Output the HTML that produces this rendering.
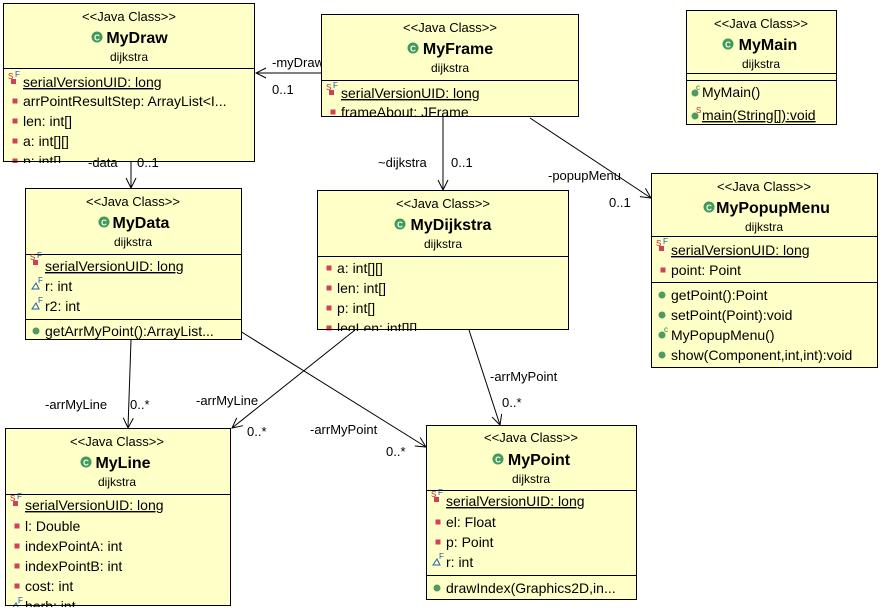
<!DOCTYPE html>
<html><head><meta charset="utf-8"><style>
html,body{margin:0;padding:0;background:#fff;width:880px;height:610px;overflow:hidden}
svg{font-family:"Liberation Sans",sans-serif}
.st{font-size:13px;text-anchor:middle}
.nm{font-size:16px;font-weight:bold;text-anchor:middle}
.pk{font-size:12px;text-anchor:middle}
.r{font-size:14px}
.l{font-size:13px}
.sf{font-size:8px}
</style></head><body>
<svg width="880" height="610" viewBox="0 0 880 610">
<defs>
<marker id="a" markerWidth="12" markerHeight="12" refX="11" refY="6" orient="auto" markerUnits="userSpaceOnUse"><path d="M1,1 L11,6 L1,11" fill="none" stroke="#000" stroke-width="1"/></marker>
<g id="cls"><circle cx="0" cy="0" r="5.5" fill="#3f9a5a"/><text x="0" y="3.5" font-size="8" font-weight="bold" fill="#fff" text-anchor="middle">C</text></g>
<g id="pv"><rect x="-2.5" y="-2.5" width="5" height="5" fill="#d0405a"/></g>
<g id="pm"><circle cx="0" cy="0" r="3.5" fill="#4f9a60"/></g>
<g id="sfi"><rect x="-1" y="-1" width="5" height="5" fill="#d0405a"/><text x="-4" y="-1" class="sf" fill="#c0203a">S</text><text x="3" y="-3" class="sf" fill="#2050c0">F</text></g>
<g id="fi"><path d="M-3,3 L1,-3 L4,3 Z" fill="none" stroke="#2060b0"/><text x="3" y="-3" class="sf" fill="#2050c0">F</text></g>
</defs>

<g stroke="#000" stroke-width="1" fill="none">
<line x1="321" y1="73" x2="256" y2="73" marker-end="url(#a)"/>
<line x1="131" y1="162" x2="131" y2="188" marker-end="url(#a)"/>
<line x1="443" y1="117" x2="443" y2="190" marker-end="url(#a)"/>
<line x1="530" y1="118" x2="651" y2="198" marker-end="url(#a)"/>
<line x1="131" y1="340" x2="128" y2="428" marker-end="url(#a)"/>
<line x1="240" y1="331" x2="426" y2="447" marker-end="url(#a)"/>
<line x1="355" y1="330" x2="232" y2="428" marker-end="url(#a)"/>
<line x1="469" y1="330" x2="500" y2="425" marker-end="url(#a)"/>
</g>
<g class="l">
<text x="272" y="67">-myDraw</text><text x="272" y="94">0..1</text>
<text x="378" y="167">~dijkstra</text><text x="451" y="167">0..1</text>
<text x="548" y="180">-popupMenu</text><text x="609" y="207">0..1</text>
<text x="45" y="409">-arrMyLine</text><text x="130" y="409">0..*</text>
<text x="310" y="434">-arrMyPoint</text><text x="386" y="456">0..*</text>
<text x="196" y="405">-arrMyLine</text><text x="247" y="436">0..*</text>
<text x="490" y="381">-arrMyPoint</text><text x="502" y="407">0..*</text>
</g>

<!-- MyDraw -->
<svg x="3" y="3" width="253" height="160">
<rect x="0.5" y="0.5" width="251" height="158" fill="#ffffc8" stroke="#000"/>
<text x="126" y="18" class="st">&lt;&lt;Java Class&gt;&gt;</text>
<use href="#cls" x="94" y="34"/><text x="134" y="40" class="nm">MyDraw</text>
<text x="126" y="58" class="pk">dijkstra</text>
<line x1="0" y1="65.5" x2="252" y2="65.5" stroke="#000"/>
<use href="#sfi" x="9" y="77"/><text x="20" y="84" class="r" text-decoration="underline">serialVersionUID: long</text>
<use href="#pv" x="12" y="98"/><text x="20" y="103" class="r">arrPointResultStep: ArrayList&lt;I...</text>
<use href="#pv" x="12" y="118"/><text x="20" y="123" class="r">len: int[]</text>
<use href="#pv" x="12" y="138"/><text x="20" y="143" class="r">a: int[][]</text>
<use href="#pv" x="12" y="158"/><text x="20" y="163" class="r">p: int[]</text>
<rect x="0.5" y="0.5" width="251" height="158" fill="none" stroke="#000"/>
</svg>
<g class="l"><text x="88" y="167">-data</text><text x="137" y="167">0..1</text></g>

<!-- MyFrame -->
<svg x="321" y="14" width="259" height="104">
<rect x="0.5" y="0.5" width="257" height="102" fill="#ffffc8" stroke="#000"/>
<text x="129" y="18" class="st">&lt;&lt;Java Class&gt;&gt;</text>
<use href="#cls" x="92" y="34"/><text x="137" y="40" class="nm">MyFrame</text>
<text x="129" y="58" class="pk">dijkstra</text>
<line x1="0" y1="66.5" x2="258" y2="66.5" stroke="#000"/>
<use href="#sfi" x="9" y="77"/><text x="20" y="84" class="r" text-decoration="underline">serialVersionUID: long</text>
<use href="#pv" x="12" y="98"/><text x="20" y="103" class="r">frameAbout: JFrame</text>
<rect x="0.5" y="0.5" width="257" height="102" fill="none" stroke="#000"/>
</svg>

<!-- MyMain -->
<svg x="686" y="10" width="152" height="116">
<rect x="0.5" y="0.5" width="150" height="114" fill="#ffffc8" stroke="#000"/>
<text x="75" y="18" class="st">&lt;&lt;Java Class&gt;&gt;</text>
<use href="#cls" x="42" y="34"/><text x="82" y="40" class="nm">MyMain</text>
<text x="75" y="58" class="pk">dijkstra</text>
<line x1="0" y1="63.5" x2="151" y2="63.5" stroke="#000"/>
<line x1="0" y1="70.5" x2="151" y2="70.5" stroke="#000"/>
<use href="#pm" x="9" y="83"/><text x="10" y="80" class="sf" fill="#208040">c</text><text x="16" y="87" class="r">MyMain()</text>
<use href="#pm" x="9" y="106"/><text x="10" y="103" class="sf" fill="#c0203a">S</text><text x="16" y="110" class="r" text-decoration="underline">main(String[]):void</text>
</svg>

<!-- MyPopupMenu -->
<svg x="651" y="173" width="228" height="196">
<rect x="0.5" y="0.5" width="226" height="194" fill="#ffffc8" stroke="#000"/>
<text x="113" y="18" class="st">&lt;&lt;Java Class&gt;&gt;</text>
<use href="#cls" x="58" y="34"/><text x="122" y="40" class="nm">MyPopupMenu</text>
<text x="113" y="58" class="pk">dijkstra</text>
<line x1="0" y1="63.5" x2="227" y2="63.5" stroke="#000"/>
<use href="#sfi" x="9" y="74"/><text x="20" y="82" class="r" text-decoration="underline">serialVersionUID: long</text>
<use href="#pv" x="12" y="97"/><text x="20" y="102" class="r">point: Point</text>
<line x1="0" y1="109.5" x2="227" y2="109.5" stroke="#000"/>
<use href="#pm" x="11" y="122"/><text x="20" y="127" class="r">getPoint():Point</text>
<use href="#pm" x="11" y="142"/><text x="20" y="147" class="r">setPoint(Point):void</text>
<use href="#pm" x="11" y="162"/><text x="13" y="159" class="sf" fill="#208040">c</text><text x="20" y="167" class="r">MyPopupMenu()</text>
<use href="#pm" x="11" y="182"/><text x="20" y="187" class="r">show(Component,int,int):void</text>
</svg>

<!-- MyData -->
<svg x="25" y="188" width="218" height="153">
<rect x="0.5" y="0.5" width="216" height="151" fill="#ffffc8" stroke="#000"/>
<text x="108" y="18" class="st">&lt;&lt;Java Class&gt;&gt;</text>
<use href="#cls" x="79" y="34"/><text x="116" y="40" class="nm">MyData</text>
<text x="108" y="58" class="pk">dijkstra</text>
<line x1="0" y1="66.5" x2="217" y2="66.5" stroke="#000"/>
<use href="#sfi" x="9" y="73"/><text x="20" y="83" class="r" text-decoration="underline">serialVersionUID: long</text>
<use href="#fi" x="10" y="98"/><text x="20" y="103" class="r">r: int</text>
<use href="#fi" x="10" y="118"/><text x="20" y="123" class="r">r2: int</text>
<line x1="0" y1="131.5" x2="217" y2="131.5" stroke="#000"/>
<use href="#pm" x="11" y="143"/><text x="20" y="148" class="r">getArrMyPoint():ArrayList...</text>
</svg>

<!-- MyDijkstra -->
<svg x="317" y="190" width="253" height="141">
<rect x="0.5" y="0.5" width="251" height="139" fill="#ffffc8" stroke="#000"/>
<text x="126" y="18" class="st">&lt;&lt;Java Class&gt;&gt;</text>
<use href="#cls" x="83" y="34"/><text x="134" y="40" class="nm">MyDijkstra</text>
<text x="126" y="58" class="pk">dijkstra</text>
<line x1="0" y1="66.5" x2="252" y2="66.5" stroke="#000"/>
<use href="#pv" x="12" y="78"/><text x="20" y="83" class="r">a: int[][]</text>
<use href="#pv" x="12" y="98"/><text x="20" y="103" class="r">len: int[]</text>
<use href="#pv" x="12" y="118"/><text x="20" y="123" class="r">p: int[]</text>
<use href="#pv" x="12" y="138"/><text x="20" y="143" class="r">legLen: int[][]</text>
<rect x="0.5" y="0.5" width="251" height="139" fill="none" stroke="#000"/>
</svg>

<!-- MyLine -->
<svg x="5" y="428" width="227" height="179">
<rect x="0.5" y="0.5" width="225" height="177" fill="#ffffc8" stroke="#000"/>
<text x="112" y="18" class="st">&lt;&lt;Java Class&gt;&gt;</text>
<use href="#cls" x="81" y="34"/><text x="118" y="40" class="nm">MyLine</text>
<text x="112" y="58" class="pk">dijkstra</text>
<line x1="0" y1="66.5" x2="226" y2="66.5" stroke="#000"/>
<use href="#sfi" x="9" y="74"/><text x="20" y="82" class="r" text-decoration="underline">serialVersionUID: long</text>
<use href="#pv" x="12" y="98"/><text x="20" y="103" class="r">l: Double</text>
<use href="#pv" x="12" y="118"/><text x="20" y="123" class="r">indexPointA: int</text>
<use href="#pv" x="12" y="138"/><text x="20" y="143" class="r">indexPointB: int</text>
<use href="#pv" x="12" y="158"/><text x="20" y="163" class="r">cost: int</text>
<use href="#fi" x="10" y="178"/><text x="20" y="183" class="r">herb: int</text>
<rect x="0.5" y="0.5" width="225" height="177" fill="none" stroke="#000"/>
</svg>

<!-- MyPoint -->
<svg x="426" y="425" width="212" height="176">
<rect x="0.5" y="0.5" width="210" height="174" fill="#ffffc8" stroke="#000"/>
<text x="105" y="17" class="st">&lt;&lt;Java Class&gt;&gt;</text>
<use href="#cls" x="72" y="34"/><text x="113" y="40" class="nm">MyPoint</text>
<text x="105" y="58" class="pk">dijkstra</text>
<line x1="0" y1="65.5" x2="211" y2="65.5" stroke="#000"/>
<use href="#sfi" x="9" y="73"/><text x="20" y="81" class="r" text-decoration="underline">serialVersionUID: long</text>
<use href="#pv" x="12" y="97"/><text x="20" y="102" class="r">el: Float</text>
<use href="#pv" x="12" y="117"/><text x="20" y="122" class="r">p: Point</text>
<use href="#fi" x="10" y="137"/><text x="20" y="142" class="r">r: int</text>
<line x1="0" y1="150.5" x2="211" y2="150.5" stroke="#000"/>
<use href="#pm" x="11" y="163"/><text x="20" y="168" class="r">drawIndex(Graphics2D,in...</text>
</svg>
</svg>
</body></html>
